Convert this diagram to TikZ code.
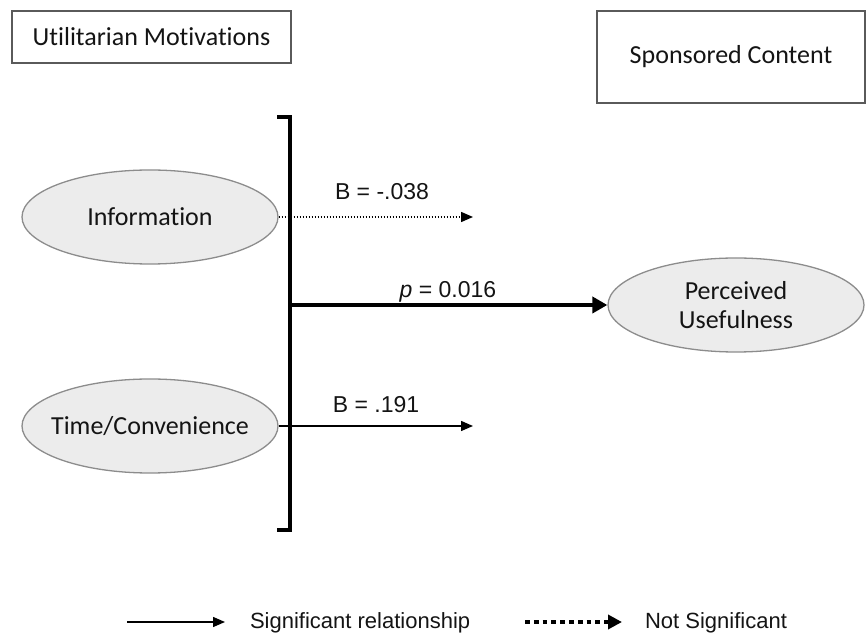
\documentclass[tikz,border=0pt]{standalone}
\usepackage{fontspec}
\setmainfont{Carlito}[Ligatures=NoCommon]
\newfontfamily\arialfont{Liberation Sans}
\usetikzlibrary{arrows.meta,shapes.geometric}

\definecolor{modelFill}{RGB}{236,236,236}
\definecolor{modelEdge}{RGB}{140,140,140}
\definecolor{modelBox}{RGB}{90,90,90}
\definecolor{modelInk}{RGB}{20,20,20}

\begin{document}
\begin{tikzpicture}[x=.5pt,y=-.5pt,
      heading/.style={draw=modelBox, line width=.65pt, inner sep=0pt,
        font=\fontsize{13}{15}\selectfont, text=modelInk},
      factor/.style={ellipse, draw=modelEdge, fill=modelFill, line width=.65pt,
        minimum width=128pt, minimum height=47pt, inner sep=0pt, align=center,
        font=\fontsize{13}{14.5}\selectfont, text=modelInk},
      estimate/.style={font=\arialfont\fontsize{11.5}{13}\selectfont,
        text=modelInk, anchor=base},
      legendtext/.style={font=\arialfont\fontsize{11}{13}\selectfont,
        text=modelInk, anchor=base west},
      sig/.style={-{Triangle[length=6pt,width=5pt]}, line width=.7pt},
      nonsig/.style={-{Triangle[length=6pt,width=5pt]}, line width=.75pt,
        dash pattern=on .75pt off .75pt},
      bracket/.style={line width=2pt, line join=miter}]
      \useasboundingbox (0,0) rectangle (867,635);
      \fill[white] (0,0) rectangle (867,635);

      % headings
      \node[heading, minimum width=139.5pt, minimum height=26pt]
        (utilitarian) at (151.5,37) {Utilitarian Motivations};
      \node[heading, minimum width=134pt, minimum height=46pt]
        (sponsored) at (731,57) {Sponsored Content};

      % motivations and outcome
      \node[factor] (info) at (150,217) {Information};
      \node[factor] (time) at (150,426) {\makebox[0pt]{Time/Convenience}};
      \node[factor] (perc) at (736,305) {Perceived\\Usefulness};

      % bracket
      \coordinate (brTop) at (290,117);
      \coordinate (brBot) at (290,530);
      \draw[bracket] (brTop) ++(-13,0) -- (brTop) -- (brBot) -- ++(-13,0);

      % paths
      \coordinate (infoEnd) at (473,217);
      \coordinate (timeEnd) at (473,426);
      \draw[nonsig] (info.east) -- (infoEnd);
      \draw[sig] (time.east) -- (timeEnd);
      \draw[line width=2pt, -{Triangle[length=7.5pt,width=8pt]}]
        (brTop |- perc.west) -- (perc.west);
      \node[estimate] (bInfo) at (382,200) {B = -.038};
      \node[estimate] (pPerc) at (448,298) {\textit{p} = 0.016};
      \node[estimate] (bTime) at (376,413) {B = .191};

      % legend
      \coordinate (sigStart) at (127,622);
      \coordinate (sigEnd) at (225,622);
      \draw[sig] (sigStart) -- (sigEnd);
      \node[legendtext] (sigText) at (243,628) {Significant relationship};
      \coordinate (nonsigStart) at (525,622);
      \coordinate (nonsigEnd) at (622,622);
      \draw[line width=2pt, dash pattern=on 2.4pt off 2pt,
        -{Triangle[length=7pt,width=7pt]}] (nonsigStart) -- (nonsigEnd);
      \node[legendtext] (nonsigText) at (638,628) {Not Significant};
    \end{tikzpicture}
\end{document}
